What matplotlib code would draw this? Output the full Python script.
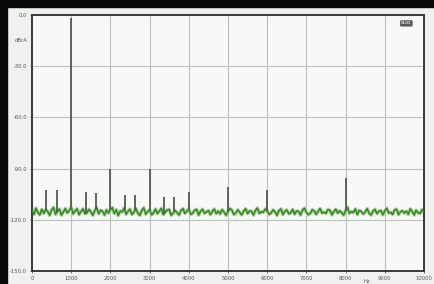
import numpy as np
import matplotlib.pyplot as plt
from matplotlib.patches import Rectangle

# noise floor, read every 50 Hz (dBrA)
noise_hz = list(range(0, 10001, 50))
noise_db = [-114.5, -116.8, -113.2, -115.8, -117.1, -113.9, -116.2, -114.0, -115.1, -117.4,
            -114.3, -112.8, -116.8, -115.0, -113.7, -117.2, -115.5, -113.4, -116.0, -114.6,
            -112.6, -116.5, -114.8, -113.5, -117.0, -115.2, -113.6, -116.4, -116.0, -113.9,
            -115.3, -117.3, -114.7, -112.9, -116.5, -114.4, -115.0, -117.2, -114.2, -116.1,
            -114.0, -112.9, -116.3, -114.1, -117.5, -114.9, -115.4, -113.2, -116.8, -115.0,
            -113.8, -116.9, -115.6, -113.4, -116.1, -117.4, -114.5, -113.0, -116.7, -115.2,
            -114.1, -117.1, -115.9, -113.7, -116.4, -114.8, -113.3, -117.0, -115.6, -114.2,
            -113.9, -117.3, -116.2, -114.5, -115.8, -117.2, -114.6, -113.5, -116.3, -115.0,
            -113.6, -116.8, -116.2, -114.4, -113.9, -117.2, -115.0, -113.8, -116.2, -115.4,
            -114.6, -117.0, -115.1, -113.7, -116.4, -114.9, -116.6, -114.0, -115.5, -117.3,
            -115.2, -113.4, -114.3, -116.9, -116.1, -114.1, -115.7, -117.1, -114.9, -113.5,
            -116.4, -114.8, -115.0, -117.2, -114.5, -113.1, -116.2, -115.3, -115.6, -113.7,
            -114.8, -116.9, -116.0, -114.2, -115.3, -117.4, -114.6, -113.6, -117.0, -115.1,
            -114.2, -116.5, -115.9, -113.9, -116.7, -114.8, -115.1, -117.2, -114.4, -113.2,
            -115.7, -117.0, -116.3, -114.1, -114.9, -116.8, -115.0, -113.4, -116.1, -115.5,
            -116.2, -114.0, -114.4, -117.1, -115.2, -113.8, -116.1, -114.7, -115.8, -117.3,
            -114.6, -112.7, -116.3, -115.2, -115.8, -113.6, -117.0, -114.5, -115.1, -116.6,
            -115.4, -113.5, -116.2, -117.2, -114.9, -113.9, -116.4, -115.0, -114.6, -117.1,
            -114.8, -113.2, -116.0, -115.6, -116.9, -114.2, -113.8, -117.0, -115.3, -114.7,
            -116.1, -114.9, -116.8, -113.6, -115.2, -117.2, -114.4, -115.9, -116.3, -114.1,
            -115.6]

# harmonics / spurs
spike_hz = [367, 633, 1000, 1367, 1633, 2000, 2367, 2633, 3000, 3367, 3633, 4000, 5000, 6000, 8000]
spike_db = [-102.5, -102.5, -2.0, -104.0, -104.5, -90.5, -105.5, -105.5, -90.5, -106.5, -106.5,
            -104.0, -100.5, -102.5, -95.5]

x_ticks = list(range(0, 10001, 1000))
y_ticks = [0, -30, -60, -90, -120, -150]

fig = plt.figure(figsize=(4.35, 2.84), dpi=100, facecolor='#eff1ef')
# black strips at left / top edge of the photo
fig.patches.append(Rectangle((0, 0), 7/435, 1, transform=fig.transFigure, color='#080808', zorder=0))
fig.patches.append(Rectangle((0, 1 - 7/284), 1, 7/284, transform=fig.transFigure, color='#080808', zorder=0))

ax = fig.add_axes([32/435, 13/284, 392/435, 256/284])
ax.set_facecolor('#f7f8f7')

ax.plot(noise_hz, noise_db, color='#a8d894', lw=2.6, zorder=2)
ax.plot(noise_hz, noise_db, color='#3d7e30', lw=1.1, zorder=3)
base = np.interp(spike_hz, noise_hz, noise_db)
ax.vlines(spike_hz, base, spike_db, color='#4d5f49', lw=1.3, zorder=4)

ax.set_xlim(0, 10000)
ax.set_ylim(-150, 0)
ax.set_xticks(x_ticks)
ax.set_xticklabels([str(v) for v in x_ticks])
ax.set_yticks(y_ticks)
ax.set_yticklabels(['%.1f' % v for v in y_ticks])
ax.grid(True, color='#bcc0bc', lw=0.8)
ax.tick_params(labelsize=3.8, colors='#555555', length=1.5, width=0.6, pad=2)
for s in ax.spines.values():
    s.set_color('#3a3a3a')
    s.set_linewidth(1.4)

ax.text(-0.012, 0.9, 'dBrA', transform=ax.transAxes, ha='right', va='center',
        fontsize=3.8, color='#555555')
ax.text(0.855, -0.03, 'Hz', transform=ax.transAxes, ha='center', va='top',
        fontsize=3.8, color='#555555')
ax.text(0.955, 0.975, 'CLIO', transform=ax.transAxes, ha='center', va='top',
        fontsize=2.8, color='#dddddd', fontweight='bold',
        bbox=dict(boxstyle='round,pad=0.3', fc='#5a5a5a', ec='none'))

fig.savefig('out.png', dpi=100, facecolor=fig.get_facecolor())
